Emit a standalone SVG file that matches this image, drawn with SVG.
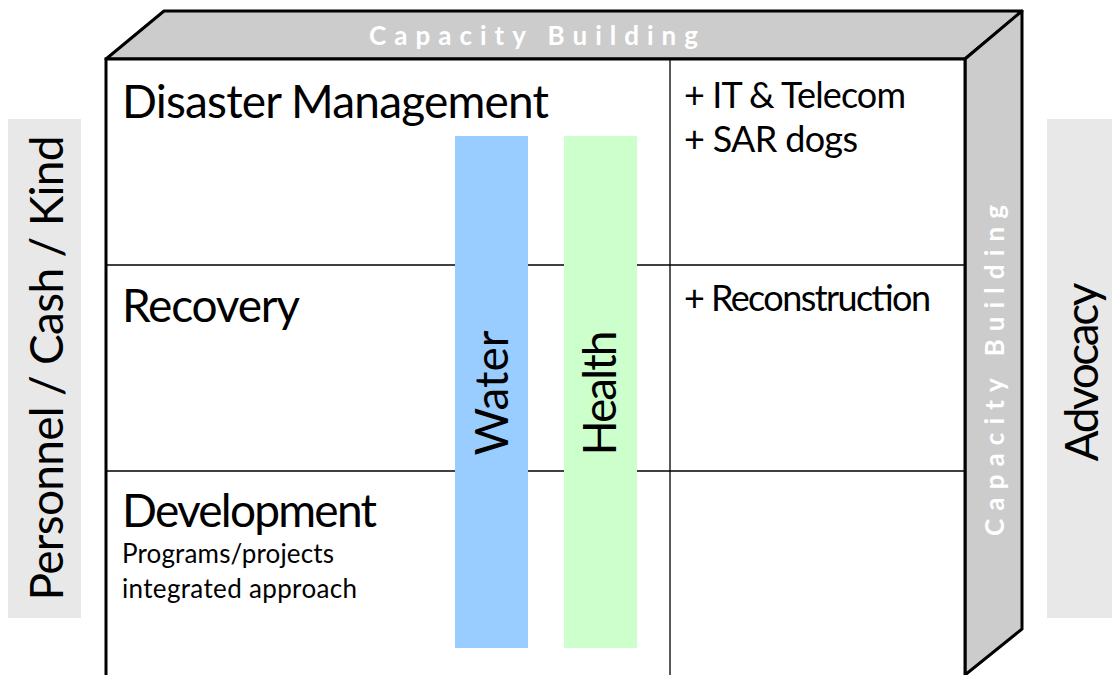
<svg xmlns="http://www.w3.org/2000/svg" width="1112" height="675" viewBox="0 0 1112 675">
<style>
text{font-family:Lato,"Liberation Sans",sans-serif;fill:#000}
.big{font-size:46px}
.mid{font-size:36px}
.small{font-size:26px}
.cap{font-size:26px;font-weight:bold;fill:#fff;letter-spacing:9px}
.face{fill:#cccccc;stroke:#000;stroke-width:3;stroke-linejoin:round}
.grid{stroke:#000;stroke-width:1.3;fill:none}
.side{fill:#e8e8e8}
</style>
<rect width="1112" height="675" fill="#fff"/>
<g id="left-label">
<rect class="side" x="8" y="119" width="73" height="499"/>
<text class="big" text-anchor="middle" transform="translate(63,368) rotate(-90)" textLength="465">Personnel / Cash / Kind</text>
</g>
<g id="right-label">
<rect class="side" x="1047" y="119" width="65" height="499"/>
<text class="big" text-anchor="middle" transform="translate(1098,372) rotate(-90)" textLength="179">Advocacy</text>
</g>
<g id="box">
<polygon class="face" points="106,59 164,11 1022,11 965,59"/>
<polygon class="face" points="965,59 1022,11 1022,629 965,675"/>
<rect x="106" y="59" width="859" height="630" fill="#fff" stroke="#000" stroke-width="3"/>
<text class="cap" x="538" y="45" text-anchor="middle" textLength="338">Capacity Building</text>
<text class="cap" text-anchor="middle" transform="translate(1004,366) rotate(-90)" textLength="340">Capacity Building</text>
</g>
<g id="connectors">
<line class="grid" x1="670" y1="59" x2="670" y2="675"/>
<line class="grid" x1="106" y1="265" x2="965" y2="265"/>
<line class="grid" x1="106" y1="471" x2="965" y2="471"/>
</g>
<g id="disaster-management">
<text class="big" x="122" y="118" textLength="427">Disaster Management</text>
<text class="mid" x="684" y="108" textLength="222">+ IT &amp; Telecom</text>
<text class="mid" x="684" y="152" textLength="174">+ SAR dogs</text>
</g>
<g id="recovery">
<text class="big" x="122" y="322" textLength="178">Recovery</text>
<text class="mid" x="684" y="311" textLength="247">+ Reconstruction</text>
</g>
<g id="development">
<text class="big" x="122" y="527" textLength="255">Development</text>
<text class="small" x="122" y="563" textLength="212">Programs/projects</text>
<text class="small" x="122" y="598" textLength="235">integrated approach</text>
</g>
<g id="water">
<rect x="455" y="136" width="73" height="512" fill="#99ccff"/>
<text class="big" text-anchor="middle" transform="translate(508,393) rotate(-90)" textLength="125">Water</text>
</g>
<g id="health">
<rect x="564" y="136" width="73" height="512" fill="#ccffcc"/>
<text class="big" text-anchor="middle" transform="translate(616,393) rotate(-90)" textLength="125">Health</text>
</g>
</svg>
